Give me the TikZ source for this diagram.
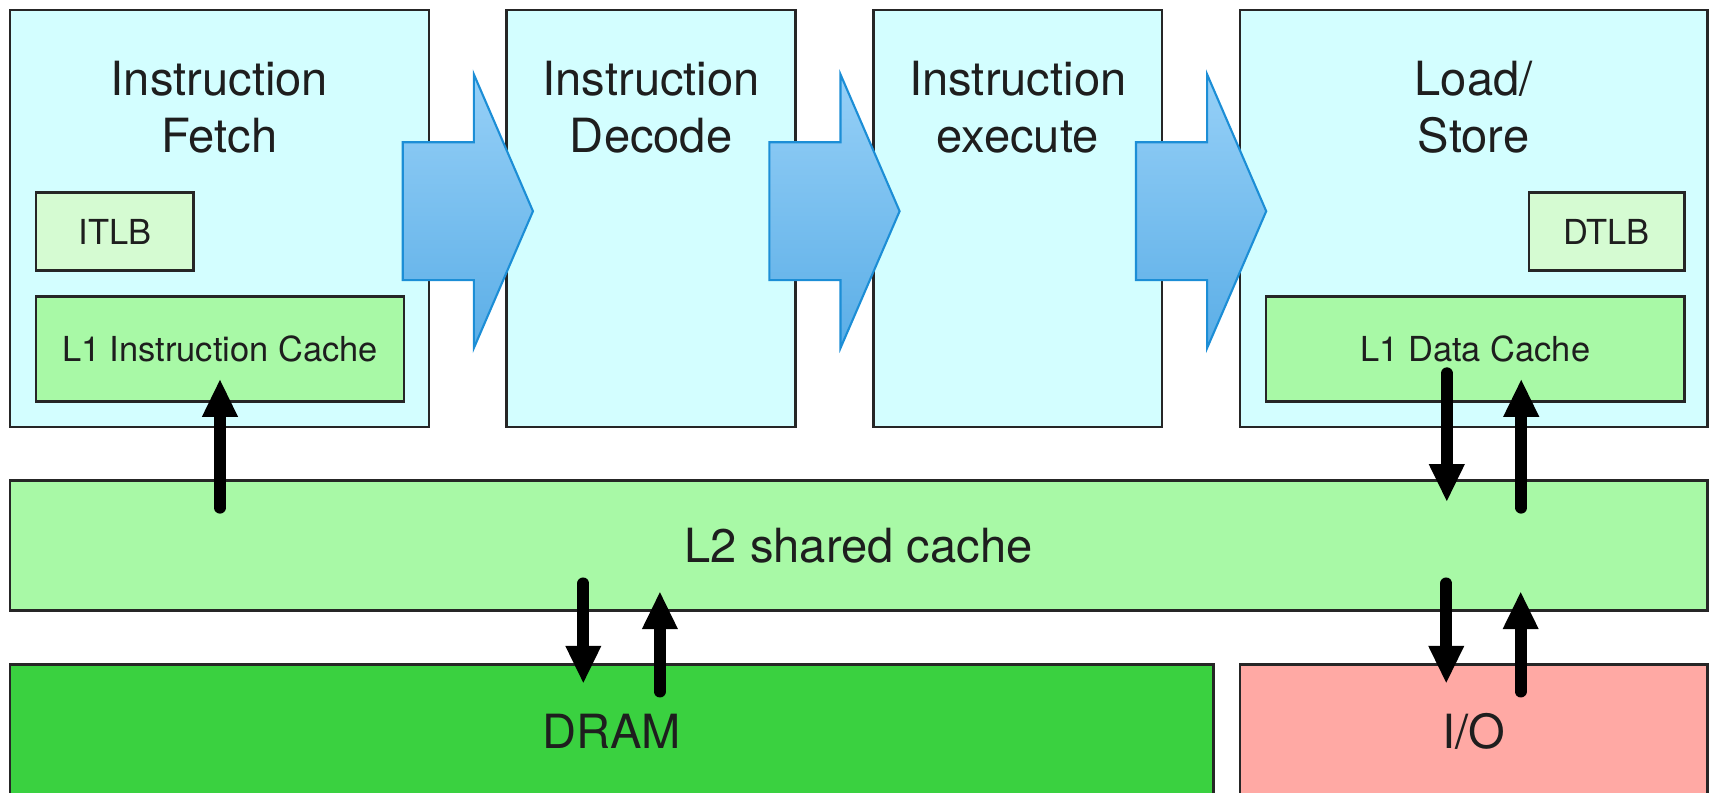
\documentclass[tikz,border=0pt]{standalone}
\usepackage{fontspec}
\setmainfont{TeX Gyre Heros}
\usetikzlibrary{arrows.meta,calc}

\definecolor{stagecol}{HTML}{D3FEFF}
\definecolor{tlbcol}{HTML}{D5FBD2}
\definecolor{cachecol}{HTML}{A8F9A6}
\definecolor{dramcol}{HTML}{3AD140}
\definecolor{iocol}{HTML}{FFA9A4}
\definecolor{pipetop}{HTML}{96D0F7}
\definecolor{pipebot}{HTML}{5BAEE7}
\definecolor{pipeline}{HTML}{1C8ED6}
\definecolor{textcol}{HTML}{1E1E1E}

\newcommand\unitpx{0.010944cm}

\begin{document}
\begin{tikzpicture}[
	x=\unitpx, y=-\unitpx,
	box/.style={ draw=black!85, line width=0.7pt, inner sep=0pt, text=textcol },
	size/.style 2 args={ minimum width=#1*\unitpx, minimum height=#2*\unitpx },
	stage/.style={ box, fill=stagecol },
	tlb/.style={ box, fill=tlbcol, font=\fontsize{9.8}{12}\selectfont },
	cache/.style={ box, fill=cachecol, font=\fontsize{9.8}{12}\selectfont },
	mem/.style={ box, font=\fontsize{13.4}{16}\selectfont },
	title/.style={ align=center, text=textcol, font=\fontsize{13.4}{16.2}\selectfont },
	pipe/.style={ draw=pipeline, line width=0.6pt, top color=pipetop, bottom color=pipebot },
	bus/.style={ line width=3.4pt, line cap=round, -{Triangle[width=0.33cm,length=0.38cm]} }
]
\useasboundingbox (0,0) rectangle (1568,724);

% pipeline stages
\node at (200.5,199.5) (fetch) [stage, size={383}{381}] {};
\node at (595,199.5) (decode) [stage, size={264}{381}] {};
\node at (930,199.5) (exec) [stage, size={264}{381}] {};
\node at (1346.5,199.5) (ldst) [stage, size={427}{381}] {};
\node at (fetch.north |- 0,98) (fetchtxt) [title] {Instruction\\Fetch};
\node at (decode.north |- 0,98) (decodetxt) [title] {Instruction\\Decode};
\node at (exec.north |- 0,98) (exectxt) [title] {Instruction\\execute};
\node at (ldst.north |- 0,98) (ldsttxt) [title] {Load/\\Store};

% TLBs and L1 caches
\node at (105,211.5) (itlb) [tlb, size={144}{71}] {ITLB};
\node at (1468,211.5) (dtlb) [tlb, size={142}{71}] {DTLB};
\node at (201,319) (l1i) [cache, size={336}{96}] {L1 Instruction Cache};
\node at (1348,319) (l1d) [cache, size={382}{96}] {L1 Data Cache};

% shared levels
\node at (784.5,498.5) (l2) [mem, fill=cachecol, size={1551}{119}] {L2 shared cache};
\node at (559,668) (dram) [mem, fill=dramcol, size={1100}{122}] {DRAM};
\node at (1346.5,668) (io) [mem, fill=iocol, size={427}{122}] {I/O};

% stage to stage
\foreach \x in {368,703,1038}
	\draw[pipe] (\x,130) -- ++(65,0) -- ++(0,-62) -- ++(54,125)
		-- ++(-54,125) -- ++(0,-62) -- ++(-65,0) -- cycle;

% cache traffic
\draw[bus] ($(l2.north -| l1i.south)+(0,26)$) to ($(l1i.south)+(0,-22)$);
\draw[bus] ($(l1d.south)+(-26,-27)$) to ($(l2.north -| l1d.south)+(-26,21)$);
\draw[bus] ($(l2.north -| l1d.south)+(42,26)$) to ($(l1d.south)+(42,-22)$);
\draw[bus] ($(l2.south -| io.north)+(-25,-26)$) to ($(io.north)+(-25,19)$);
\draw[bus] ($(io.north)+(43,26)$) to ($(l2.south -| io.north)+(43,-19)$);
\draw[bus] ($(l2.south -| dram.north)+(-26,-26)$) to ($(dram.north)+(-26,19)$);
\draw[bus] ($(dram.north)+(44,26)$) to ($(l2.south -| dram.north)+(44,-19)$);

\end{tikzpicture}
\end{document}
